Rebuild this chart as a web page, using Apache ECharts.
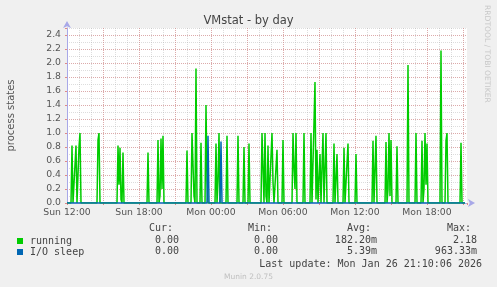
<!DOCTYPE html>
<html><head><meta charset="utf-8">
<script src="https://cdn.jsdelivr.net/npm/echarts@6/dist/echarts.min.js"></script>
<style>html,body{margin:0;padding:0;background:#f0f0f0}#c{width:497px;height:287px}</style>
</head><body><div id="c"></div>
<script>
// ---- data (5-minute samples) ----
const running = [
['Sun 12:00',0],
['Sun 12:20',0],['Sun 12:25',0.82],['Sun 12:30',0],
['Sun 12:40',0],['Sun 12:45',0.82],['Sun 12:50',0],
['Sun 12:55',0],['Sun 13:00',0.80],['Sun 13:05',1.0],['Sun 13:10',0],
['Sun 14:30',0],['Sun 14:35',0.9],['Sun 14:40',1.0],['Sun 14:45',0],
['Sun 16:10',0],['Sun 16:15',0.82],['Sun 16:20',0.26],['Sun 16:25',0.79],['Sun 16:30',0.05],['Sun 16:35',0],['Sun 16:40',0.72],['Sun 16:45',0],
['Sun 18:40',0],['Sun 18:45',0.72],['Sun 18:50',0],
['Sun 19:30',0],['Sun 19:35',0.90],['Sun 19:40',0],['Sun 19:45',0.1],['Sun 19:50',0.92],['Sun 19:55',0.2],['Sun 20:00',0.96],['Sun 20:05',0],
['Sun 21:55',0],['Sun 22:00',0.75],['Sun 22:05',0],
['Sun 22:20',0],['Sun 22:25',1.0],['Sun 22:30',1.0],['Sun 22:35',0.1],['Sun 22:40',0],['Sun 22:45',1.92],['Sun 22:50',0],
['Sun 23:05',0],['Sun 23:10',0.86],['Sun 23:15',0],
['Sun 23:30',0],['Sun 23:35',1.40],['Sun 23:40',0.3],['Sun 23:45',0],
['Mon 00:20',0],['Mon 00:25',0.85],['Mon 00:30',0],['Mon 00:35',0.3],['Mon 00:40',1.0],['Mon 00:45',0],
['Mon 01:15',0],['Mon 01:20',0.96],['Mon 01:25',0],
['Mon 02:10',0],['Mon 02:15',0.96],['Mon 02:20',0],
['Mon 02:40',0],['Mon 02:45',0.80],['Mon 02:50',0],
['Mon 03:05',0],['Mon 03:10',0.85],['Mon 03:15',0],
['Mon 04:10',0],['Mon 04:15',1.0],['Mon 04:20',1.0],['Mon 04:25',0],['Mon 04:30',1.0],['Mon 04:35',0.1],['Mon 04:40',0],['Mon 04:45',0.82],['Mon 04:50',0],
['Mon 05:00',0],['Mon 05:05',1.0],['Mon 05:10',0.3],['Mon 05:15',0],
['Mon 05:25',0],['Mon 05:30',0.76],['Mon 05:35',0],
['Mon 05:55',0],['Mon 06:00',0.90],['Mon 06:05',0],
['Mon 06:45',0],['Mon 06:50',1.0],['Mon 06:55',0.5],['Mon 07:00',0.2],['Mon 07:05',1.0],['Mon 07:10',0],
['Mon 07:40',0],['Mon 07:45',1.0],['Mon 07:50',0],
['Mon 08:15',0],['Mon 08:20',1.0],['Mon 08:25',0],
['Mon 08:35',0],['Mon 08:40',1.73],['Mon 08:45',0.05],['Mon 08:50',0.76],['Mon 08:55',0],
['Mon 09:00',0],['Mon 09:05',0.70],['Mon 09:10',0],
['Mon 09:15',0],['Mon 09:20',1.0],['Mon 09:25',0],['Mon 09:30',0],['Mon 09:35',1.0],['Mon 09:40',0],
['Mon 10:10',0],['Mon 10:15',0.85],['Mon 10:20',0],
['Mon 10:25',0],['Mon 10:30',0.70],['Mon 10:35',0],
['Mon 11:00',0],['Mon 11:05',0.79],['Mon 11:10',0],
['Mon 11:20',0],['Mon 11:25',0.85],['Mon 11:30',0],
['Mon 12:00',0],['Mon 12:05',0.70],['Mon 12:10',0],
['Mon 13:25',0],['Mon 13:30',0.89],['Mon 13:35',0],
['Mon 13:40',0],['Mon 13:45',0.96],['Mon 13:50',0],
['Mon 14:30',0],['Mon 14:35',0.87],['Mon 14:40',0],['Mon 14:45',0.2],['Mon 14:50',1.0],['Mon 14:55',0.1],['Mon 15:00',0.90],['Mon 15:05',0],
['Mon 15:25',0],['Mon 15:30',0.81],['Mon 15:35',0],
['Mon 16:20',0],['Mon 16:25',1.97],['Mon 16:30',0],
['Mon 17:00',0],['Mon 17:05',1.0],['Mon 17:10',0],
['Mon 17:30',0],['Mon 17:35',0.89],['Mon 17:40',0],['Mon 17:45',0.2],['Mon 17:50',1.0],['Mon 17:55',0.26],['Mon 18:00',0.85],['Mon 18:05',0],
['Mon 19:05',0],['Mon 19:10',2.18],['Mon 19:15',0],
['Mon 19:30',0],['Mon 19:35',0.89],['Mon 19:40',1.0],['Mon 19:45',0],
['Mon 20:45',0],['Mon 20:50',0.86],['Mon 20:55',0],
['Mon 21:10',0]
];
const ioSleep = [
['Sun 12:00',0],['Sun 23:40',0],['Sun 23:45',0.96],['Sun 23:50',0],
['Mon 00:45',0],['Mon 00:50',0.88],['Mon 00:55',0],['Mon 21:10',0]
];
const seriesNames = ['running','I/O sleep'];
const seriesColors = ['#00cc00','#0066b3'];
const statHeaders = ['Cur:','Min:','Avg:','Max:'];
const statsRunning = ['0.00','0.00','182.20m','2.18'];
const statsIoSleep = ['0.00','0.00','5.39m','963.33m'];
const lastUpdate = 'Last update: Mon Jan 26 21:10:06 2026';
const dayNames = ['Sun','Mon'];

function toHours(s){
  const [d,t] = s.split(' ');
  const [h,m] = t.split(':').map(Number);
  return dayNames.indexOf(d)*24 + h + m/60;
}
const conv = arr => arr.map(p => [toHours(p[0]), p[1]]);

const RED = 'rgba(220,120,120,0.5)';
const GREY = 'rgba(175,175,175,0.42)';
const mono = 'DejaVu Sans Mono';
const txt = '#444';
const X_MIN = 12, X_MAX = 12 + 400/12;

const chart = echarts.init(document.getElementById('c'), null, {renderer:'canvas'});
const colX = [179, 278, 377, 477];
const graphics = [];
statHeaders.forEach((h,i)=>graphics.push({type:'text', right:497-colX[i]+6, top:223, style:{text:h, font:'10px '+mono, fill:txt}}));
statsRunning.forEach((h,i)=>graphics.push({type:'text', right:497-colX[i], top:235, style:{text:h, font:'10px '+mono, fill:txt}}));
statsIoSleep.forEach((h,i)=>graphics.push({type:'text', right:497-colX[i], top:246, style:{text:h, font:'10px '+mono, fill:txt}}));
graphics.push({type:'text', right:15, top:259, style:{text:lastUpdate, font:'10px '+mono, fill:txt}});
graphics.push({type:'text', left:'center', top:273, style:{text:'Munin 2.0.75', font:'7.5px "DejaVu Sans"', fill:'#c0c0c0'}});
graphics.push({type:'text', x:491, y:5, rotation:-Math.PI/2, style:{text:'RRDTOOL / TOBI OETIKER', font:'7.6px "DejaVu Sans"', fill:'#c8c8c8'}});

chart.setOption({
  animation:false,
  backgroundColor:'#f0f0f0',
  title:{text:'VMstat - by day', left:'center', top:10, textStyle:{fontFamily:'DejaVu Sans', fontSize:11.5, fontWeight:'normal', color:'#444'}},
  grid:{left:67, right:30, top:28, bottom:84, backgroundColor:'#ffffff', show:true, borderWidth:0, containLabel:false, outerBoundsMode:'none'},
  legend:{orient:'vertical', left:12, top:231, itemWidth:6, itemHeight:6, itemGap:1, icon:'rect',
    data:seriesNames, selectedMode:false,
    textStyle:{fontFamily:mono, fontSize:10, color:txt, padding:[0,0,0,2], lineHeight:10}},
  xAxis:[
    {type:'value', min:X_MIN, max:X_MAX, interval:3, z:3,
      axisLine:{show:true, lineStyle:{color:'#a8a8e8', width:1}, symbol:['none','arrow'], symbolSize:[6,7], symbolOffset:[0,8]},
      axisTick:{show:true, length:2, lineStyle:{color:'#e08888'}},
      axisLabel:{fontFamily:'DejaVu Sans', fontSize:9.3, color:'#555', margin:5,
        formatter:v=>{ if(Math.abs(v%6)>1e-6) return ''; const d=Math.floor(v/24); const h=v%24; return dayNames[d]+' '+String(h).padStart(2,'0')+':00'; }},
      splitLine:{show:true, showMaxLine:false, showMinLine:false, lineStyle:{color:RED, type:[1,1], width:1}}
    },
    {type:'value', min:X_MIN, max:X_MAX, interval:1, position:'top', z:1,
      axisLine:{show:false}, axisTick:{show:false}, axisLabel:{show:false},
      splitLine:{show:true, showMaxLine:false, showMinLine:false, lineStyle:{color:GREY, type:[1,1], width:1}}
    }
  ],
  yAxis:[
    {type:'value', min:0, max:2.5, interval:0.2, z:3,
      name:'process states', nameLocation:'middle', nameGap:51, nameRotate:90,
      nameTextStyle:{fontFamily:'DejaVu Sans', fontSize:10, color:'#555'},
      axisLine:{show:true, lineStyle:{color:'#a8a8e8', width:1}, symbol:['none','arrow'], symbolSize:[6,7], symbolOffset:[0,7]},
      axisTick:{show:true, length:2, lineStyle:{color:'#e08888'}},
      axisLabel:{fontFamily:'DejaVu Sans', fontSize:9.3, color:'#555', margin:6,
        formatter:v=> v>2.45 ? '' : v.toFixed(1)},
      splitLine:{show:true, showMaxLine:false, showMinLine:false, lineStyle:{color:RED, type:[1,1], width:1}}
    },
    {type:'value', min:0, max:2.5, interval:0.1, position:'right', z:1,
      axisLine:{show:false}, axisTick:{show:false}, axisLabel:{show:false},
      splitLine:{show:true, showMaxLine:true, showMinLine:false, lineStyle:{color:GREY, type:[1,1], width:1}}
    }
  ],
  series:[
    {name:seriesNames[0], type:'line', xAxisIndex:0, yAxisIndex:0, data:conv(running), showSymbol:false, color:seriesColors[0], lineStyle:{width:1.5, color:seriesColors[0]}},
    {name:seriesNames[1], type:'line', xAxisIndex:0, yAxisIndex:0, data:conv(ioSleep), showSymbol:false, color:seriesColors[1], lineStyle:{width:1.5, color:seriesColors[1]}}
  ],
  graphic:graphics
});
</script></body></html>
